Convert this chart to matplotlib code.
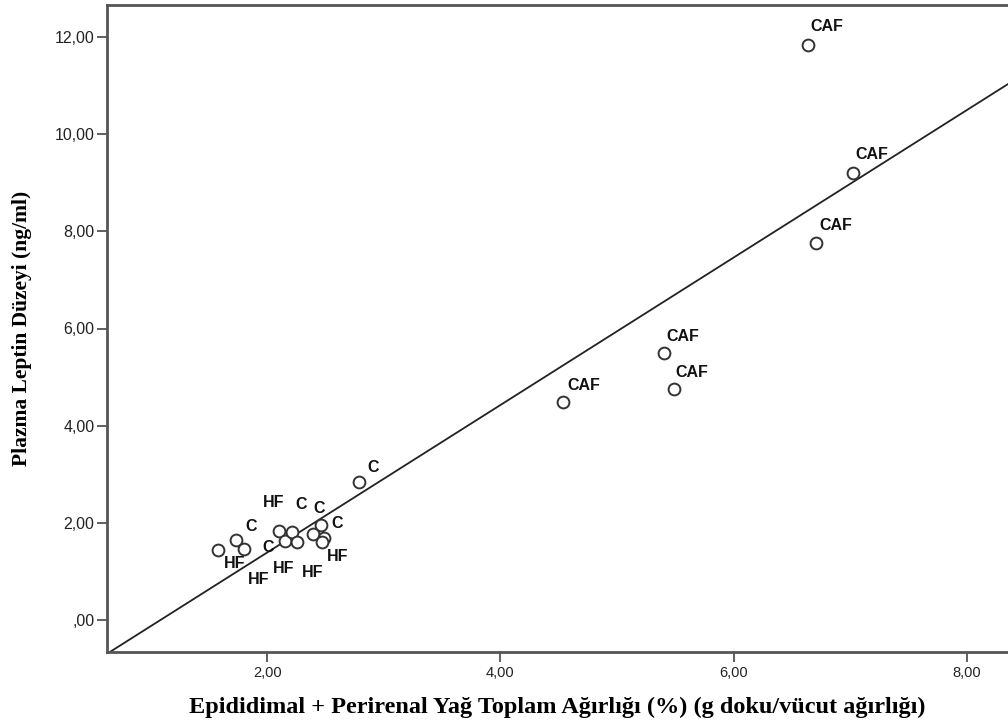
import numpy as np
import matplotlib.pyplot as plt

# adipose tissue weight (%) vs plasma leptin, per animal
fat = [1.58, 1.73, 1.80, 2.10, 2.15, 2.21, 2.26, 2.46, 2.39, 2.49, 2.47, 2.79,
       6.635, 7.02, 6.71, 5.40, 5.485, 4.54]
leptin = [1.44, 1.64, 1.46, 1.83, 1.62, 1.81, 1.60, 1.95, 1.77, 1.69, 1.60, 2.84,
          11.84, 9.21, 7.77, 5.49, 4.75, 4.48]
group = ["HF", "C", "HF", "HF", "C", "C", "HF", "C", "HF", "C", "HF", "C",
         "CAF", "CAF", "CAF", "CAF", "CAF", "CAF"]

# label placement (pixels from the marker)
lab_off = [(16, -14), (15, 14), (15, -30), (-5, 29), (-17, -6), (9, 28), (-14, -26),
           (-2, 17), (0, -39), (13, 14), (16, -14), (14, 14),
           (19, 18), (19, 18), (19, 17), (19, 17), (18, 17), (20, 17)]

xticks = [2, 4, 6, 8]
yticks = [0, 2, 4, 6, 8, 10, 12]

def comma(v):
    s = "%.2f" % v
    s = s.replace(".", ",")
    if s.startswith("0"):
        s = s[1:]
    return s

fig = plt.figure(figsize=(10.08, 7.27), dpi=100)
ax = fig.add_axes([107/1008, 1 - 652/727, 1 - 107/1008, 647/727])

ax.plot(fat, leptin, 'o', ms=8.5, mfc='white', mec='#333333', mew=1.4, zorder=3)

for xv, yv, g, off in zip(fat, leptin, group, lab_off):
    ax.annotate(g, (xv, yv), xytext=off, textcoords='offset pixels',
                ha='center', va='center', fontsize=11.5, fontweight='bold',
                family='Liberation Sans', color='#111111')

# least squares fit line
b, a = np.polyfit(fat, leptin, 1)
xl = np.array([0.0, 9.0])
ax.plot(xl, a + b * xl, color='#222222', lw=1.3, zorder=2)

ax.set_xlim(0.627, 8.352)
ax.set_ylim(-0.66, 12.66)
ax.set_xticks(xticks)
ax.set_yticks(yticks)
ax.set_xticklabels([comma(v) for v in xticks], family='Liberation Sans', fontsize=10.5, color='#222222')
ax.set_yticklabels([comma(v) for v in yticks], family='Liberation Sans', fontsize=11.5, color='#222222')
ax.tick_params(direction='out', length=7, width=1.2, color='#444444', pad=2)
ax.tick_params(axis='x', pad=3)

for s in ['left', 'bottom', 'top']:
    ax.spines[s].set_linewidth(2)
    ax.spines[s].set_color('#555555')
ax.spines['right'].set_visible(False)

ax.set_xlabel("Epididimal + Perirenal Yağ Toplam Ağırlığı (%) (g doku/vücut ağırlığı)",
              family='Liberation Serif', fontweight='bold', fontsize=17.5, labelpad=12)
ax.set_ylabel("Plazma Leptin Düzeyi (ng/ml)",
              family='Liberation Serif', fontweight='bold', fontsize=15.5, labelpad=16)

fig.savefig("out.png", dpi=100)
